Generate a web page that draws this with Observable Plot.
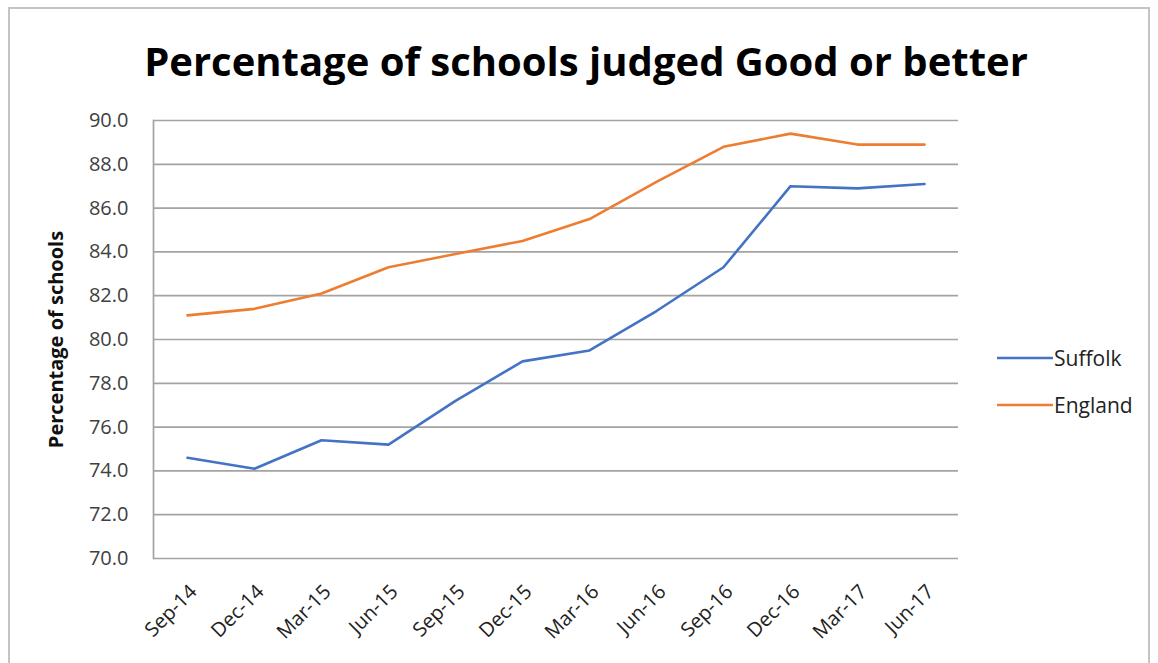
<!DOCTYPE html>
<html><head><meta charset="utf-8">
<script src="https://cdn.jsdelivr.net/npm/d3@7"></script>
<script src="https://cdn.jsdelivr.net/npm/@observablehq/plot@0.6"></script>
<style>
body{margin:0;background:#fff;width:1158px;height:663px;overflow:hidden;position:relative;font-family:"Open Sans",sans-serif}
#frame{position:absolute;left:8px;top:7px;width:1142px;height:700px;border:2px solid #c4c4c4;box-sizing:border-box}
#title{position:absolute;left:7px;width:1158px;top:34px;text-align:center;font-weight:700;font-size:40px;line-height:54px;color:#000;white-space:nowrap}
#chart{position:absolute;left:0;top:100px}
#legend{position:absolute;left:997px;top:334px;font-size:21px;color:#222}
.item{display:flex;align-items:center;height:47px}
.item svg{margin-right:1px}
</style></head>
<body>
<div id="frame"></div>
<div id="title">Percentage of schools judged Good or better</div>
<div id="chart"></div>
<div id="legend"></div>
<script>
const dates = ["Sep-14","Dec-14","Mar-15","Jun-15","Sep-15","Dec-15","Mar-16","Jun-16","Sep-16","Dec-16","Mar-17","Jun-17"];
const suffolk = [74.6,74.1,75.4,75.2,77.2,79.0,79.5,81.3,83.3,87.0,86.9,87.1];
const england = [81.1,81.4,82.1,83.3,83.9,84.5,85.5,87.2,88.8,89.4,88.9,88.9];
const seriesNames = ["Suffolk","England"];
const seriesColors = ["#4472C4","#ED7D31"];
const yTicks = [70,72,74,76,78,80,82,84,86,88,90];
const yLabel = "Percentage of schools";

const rows = [];
dates.forEach((d,i)=>{
  rows.push({date:d, value:suffolk[i], series:seriesNames[0]});
  rows.push({date:d, value:england[i], series:seriesNames[1]});
});

const chart = Plot.plot({
  width:1158, height:563,
  marginLeft:153, marginRight:200, marginTop:20, marginBottom:105,
  style:{fontFamily:"Open Sans, sans-serif", background:"transparent", color:"#404040"},
  x:{type:"point", domain:dates, padding:0.5, label:null},
  y:{domain:[70,90], label:null},
  color:{domain:seriesNames, range:seriesColors},
  marks:[
    Plot.ruleY(yTicks,{stroke:"#a3a3a3", strokeWidth:1.7}),
    Plot.frame({anchor:"left", stroke:"#a3a3a3", strokeWidth:1.7}),
    Plot.axisY({ticks:yTicks, tickFormat:d3.format(".1f"), tickSize:0, tickPadding:25, fontSize:20, fill:"#404040", style:{letterSpacing:"1.2px"}}),
    Plot.axisX({tickSize:0, tickRotate:-45, tickPadding:30, dx:6, fontSize:20, fill:"#222"}),
    Plot.lineY(rows,{x:"date", y:"value", stroke:"series", strokeWidth:2.6, strokeLinejoin:"round"}),
    Plot.text([yLabel],{frameAnchor:"left", dx:-97, rotate:-90, textAnchor:"middle", fontWeight:"bold", fontSize:20, fill:"#111"})
  ]
});
document.getElementById("chart").appendChild(chart);

const legend = document.getElementById("legend");
seriesNames.forEach((name,i)=>{
  const div = document.createElement("div");
  div.className = "item";
  div.innerHTML = `<svg width="56" height="6"><line x1="0" x2="56" y1="3" y2="3" stroke="${seriesColors[i]}" stroke-width="2.6"/></svg><span>${name}</span>`;
  legend.appendChild(div);
});
</script>
</body></html>
